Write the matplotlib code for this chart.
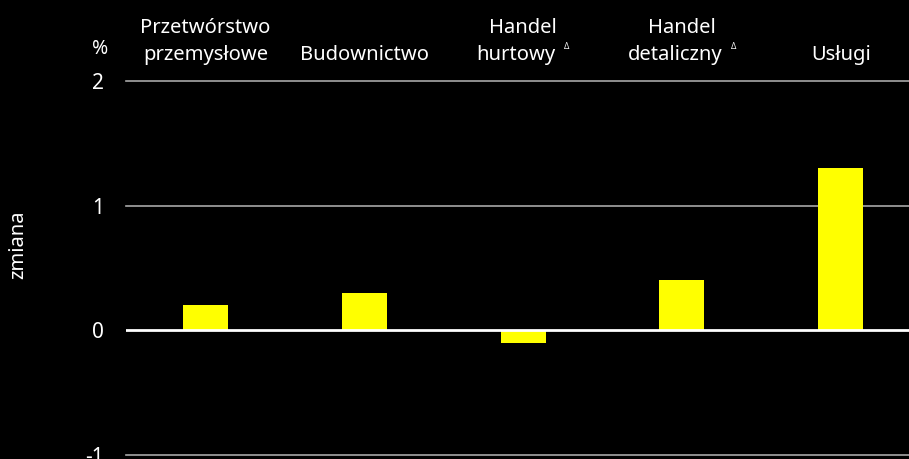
import matplotlib.pyplot as plt
from matplotlib import transforms

plt.rcParams['font.family'] = ['Noto Sans', 'DejaVu Sans']

top_lines = ["Przetwórstwo", "", "Handel", "Handel", ""]
bottom_lines = ["przemysłowe", "Budownictwo", "hurtowy", "detaliczny", "Usługi"]
values = [0.2, 0.3, -0.1, 0.4, 1.3]
has_delta = [False, False, True, True, False]
yticks = [-1, 0, 1, 2]

fig = plt.figure(figsize=(9.09, 4.59), dpi=100, facecolor='black')
W, H = 909, 459
ax = fig.add_axes([126 / W, 4 / H, 1 - 126 / W, (455 - 81) / H])
ax.set_facecolor('black')

x = list(range(len(values)))
ax.bar(x, values, width=0.283, color='#ffff00', zorder=2)

for t in yticks:
    if t == 0:
        continue
    ax.axhline(t, color='#a8a8a8', lw=1.2, zorder=1, clip_on=False)
ax.axhline(0, color='white', lw=2, zorder=3)

ax.set_xlim(-0.5, 4.43)
ax.set_ylim(-1, 2)
ax.set_yticks(yticks)
ax.set_yticklabels([str(t) for t in yticks])
ax.tick_params(axis='y', length=0, pad=16, labelsize=15, labelcolor='white')
ax.set_xticks([])
for s in ax.spines.values():
    s.set_visible(False)

trans = transforms.blended_transform_factory(ax.transData, fig.transFigure)
# nudge for lines carrying a delta mark, so line + mark stay centred
nudge = trans + transforms.ScaledTranslation(-5 / 72, 0, fig.dpi_scale_trans)
for i in x:
    if top_lines[i]:
        ax.text(i, 1 - 33 / H, top_lines[i], ha='center', va='baseline',
                color='white', fontsize=14.5, transform=trans)
    txt = ax.text(i, 1 - 60 / H, bottom_lines[i], ha='center', va='baseline',
                  color='white', fontsize=14.5,
                  transform=nudge if has_delta[i] else trans)
    if has_delta[i]:
        ax.annotate('Δ', xy=(1, 0.72), xycoords=txt, xytext=(6, 0),
                    textcoords='offset points', color='white', fontsize=6,
                    va='bottom', ha='left')

fig.text(100 / W, 1 - 54 / H, '%', ha='center', va='baseline', color='white', fontsize=14)
fig.text(18 / W, 1 - 245 / H, 'zmiana', ha='center', va='center', rotation=90,
         color='white', fontsize=14.5)

fig.savefig('out.png', dpi=100, facecolor='black')
